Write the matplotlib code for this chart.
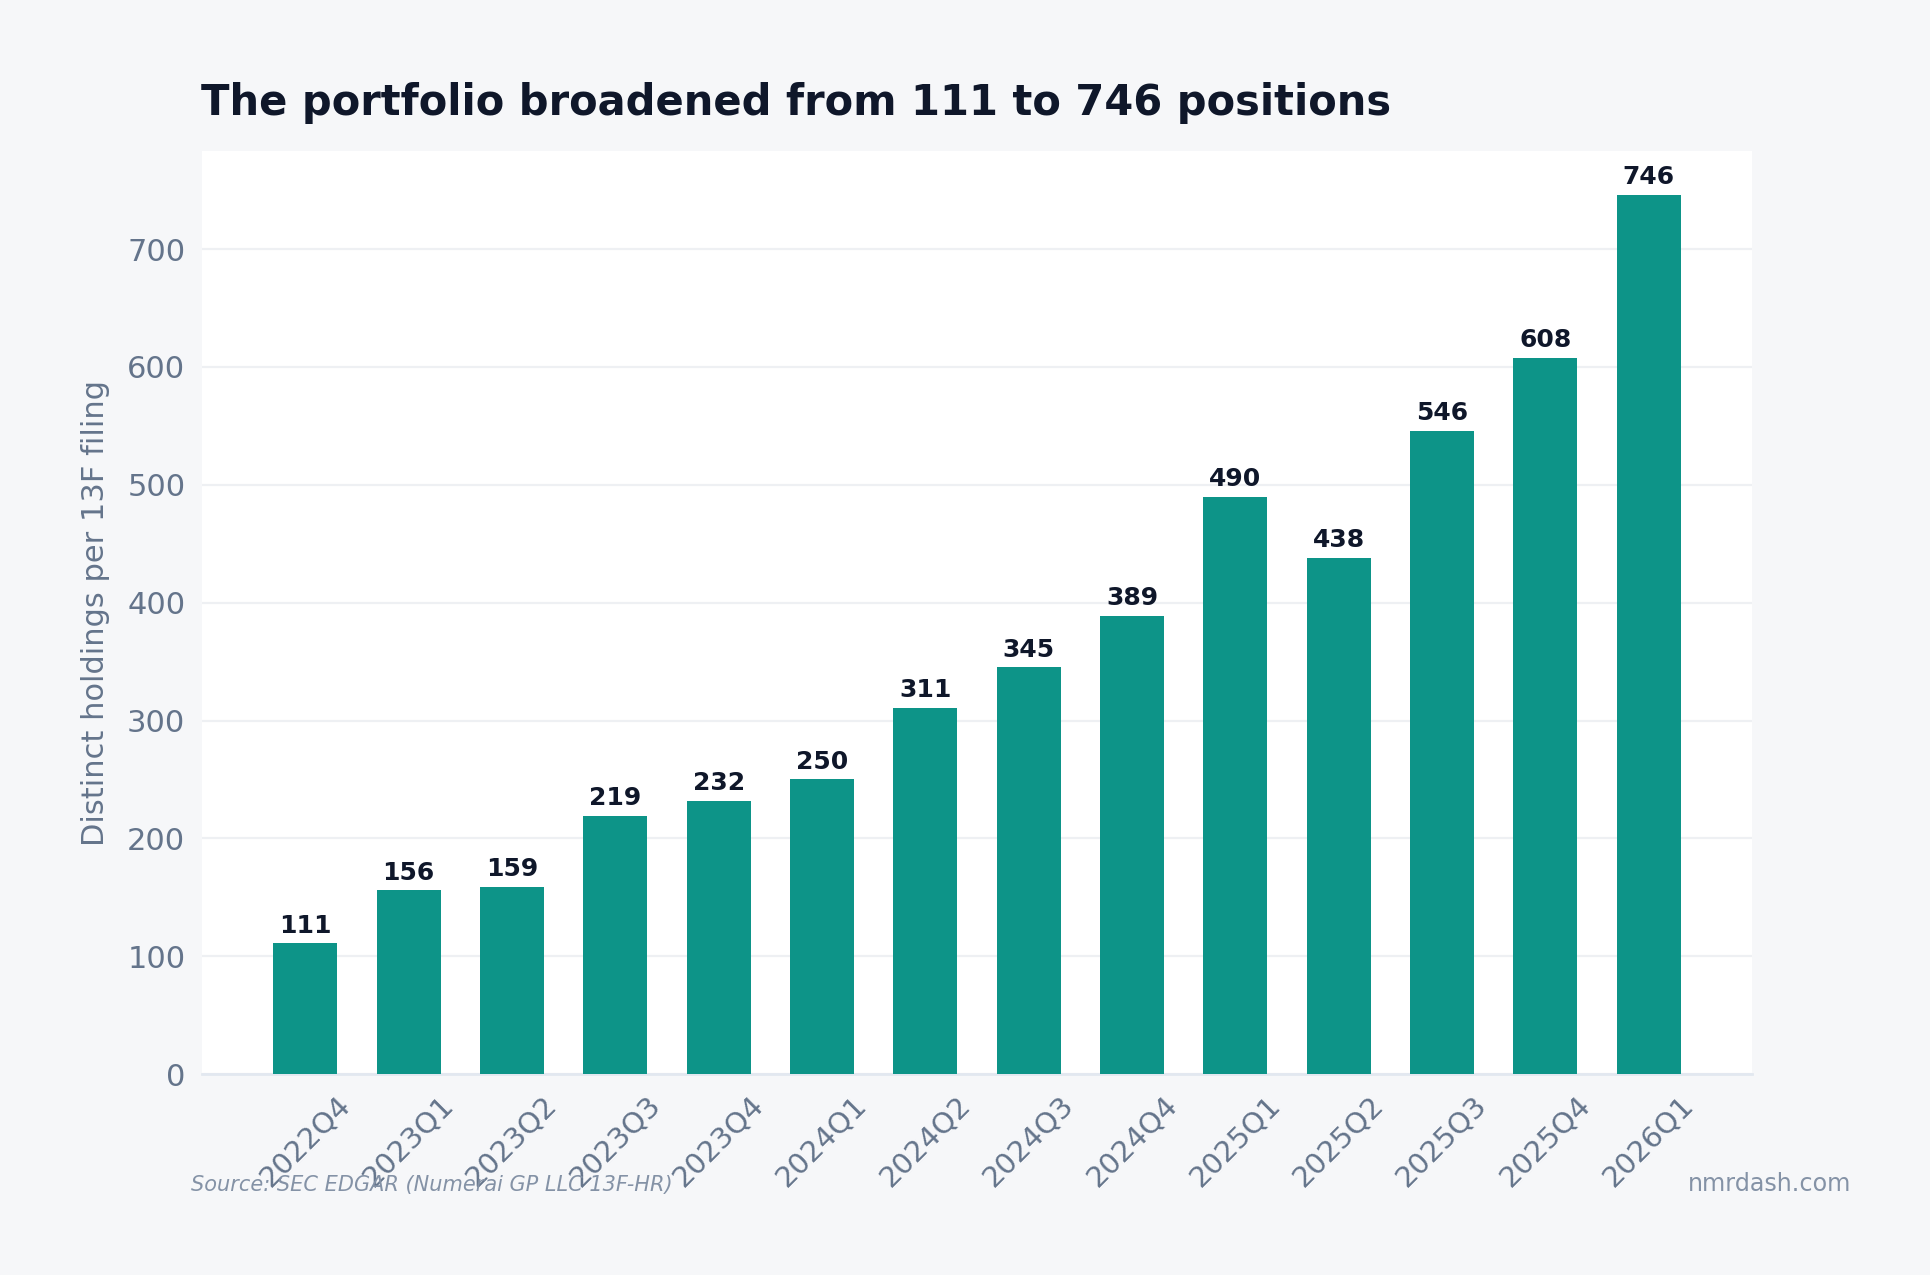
import matplotlib.pyplot as plt
import numpy as np

quarters = ["2022Q4", "2023Q1", "2023Q2", "2023Q3", "2023Q4", "2024Q1", "2024Q2",
            "2024Q3", "2024Q4", "2025Q1", "2025Q2", "2025Q3", "2025Q4", "2026Q1"]
holdings = [111, 156, 159, 219, 232, 250, 311, 345, 389, 490, 438, 546, 608, 746]

BG = "#f6f7f9"
BAR = "#0d9488"
DARK = "#0f172a"
MUTED = "#64748b"


def draw_plot():
    fig = plt.figure(figsize=(19.31 / 2, 12.75 / 2), dpi=200, facecolor=BG)
    ax = fig.add_axes([0.1046, 0.1576, 0.8027, 0.724])
    ax.set_facecolor("white")

    x = np.arange(len(quarters))
    ax.bar(x, holdings, width=0.62, color=BAR, zorder=3)
    for xi, v in zip(x, holdings):
        ax.annotate(str(v), (xi, v), xytext=(0, 2), textcoords="offset points",
                    ha="center", va="bottom", fontsize=9, fontweight="bold",
                    color=DARK, zorder=4)

    ax.set_xlim(-1, 14)
    ax.set_ylim(0, max(holdings) * 1.05)
    ax.set_xticks(x)
    ax.set_xticklabels(quarters, rotation=45, ha="center", fontsize=10.5)
    ax.set_yticks(range(0, 800, 100))
    ax.tick_params(axis="both", length=0, labelcolor=MUTED, pad=6)
    ax.tick_params(axis="y", labelsize=11)
    ax.grid(axis="y", color="#eef0f3", linewidth=0.8, zorder=0)
    for s in ["top", "right", "left"]:
        ax.spines[s].set_visible(False)
    ax.spines["bottom"].set_color("#e2e8f0")
    ax.spines["bottom"].set_linewidth(1.0)

    ax.set_ylabel("Distinct holdings per 13F filing", fontsize=11, color=MUTED, labelpad=6)

    fig.text(201 / 1931, 1 - 115 / 1275, "The portfolio broadened from 111 to 746 positions",
             fontsize=15, fontweight="bold", color=DARK, ha="left", va="baseline")
    fig.text(191 / 1931, 1 - 1191 / 1275, "Source: SEC EDGAR (Numerai GP LLC 13F-HR)",
             fontsize=7.5, style="italic", color="#8492a6", ha="left", va="baseline")
    fig.text(1851 / 1931, 1 - 1191 / 1275, "nmrdash.com",
             fontsize=8.6, color="#8492a6", ha="right", va="baseline")

    fig.savefig("out.png", dpi=200, facecolor=BG)


if __name__ == "__main__":
    draw_plot()
